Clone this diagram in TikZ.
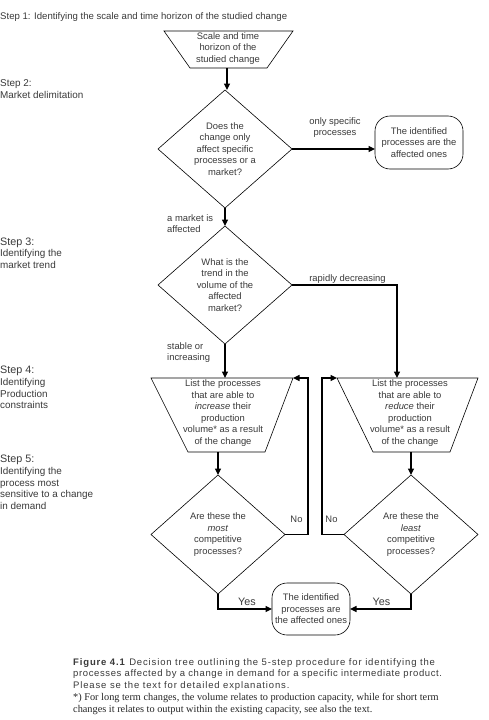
\documentclass[tikz,border=0pt]{standalone}
\usepackage{fontspec}
\setmainfont{Liberation Sans}
\newfontfamily\capfont[LetterSpace=9]{Liberation Sans}
\newfontfamily\capfontb[LetterSpace=6.5]{Liberation Sans}
\newfontfamily\serifcap{Liberation Serif}
\usetikzlibrary{shapes.geometric,arrows.meta}
\definecolor{txtgray}{HTML}{3A3A3A}
\begin{document}
\begin{tikzpicture}[x=1pt,y=-1pt,
  txt/.style={font=\fontsize{9.4}{11.5}\selectfont, text=txtgray, align=center, inner sep=0pt},
  lbl/.style={font=\fontsize{9.4}{11.5}\selectfont, text=txtgray, align=left, inner sep=0pt},
  steptitle/.style={font=\fontsize{10.8}{12}\selectfont, text=txtgray, inner sep=0pt, anchor=west},
  stepbody/.style={font=\fontsize{9.9}{11.7}\selectfont, text=txtgray, align=left, inner sep=0pt, anchor=north west},
  dia/.style={diamond, draw, line width=0.6pt, minimum width=134pt, minimum height=118pt, aspect=1.136, outer sep=0pt, txt},
  shapeline/.style={draw, line width=0.6pt},
  term/.style={rectangle, rounded corners=15pt, draw, line width=0.6pt, outer sep=0pt, txt},
  conn/.style={line width=1.1pt, -{Triangle[length=6.5pt,width=6pt]}},
  captxt/.style={anchor=west, inner sep=0pt, text=txtgray}
]
\useasboundingbox[fill=white] (0,0) rectangle (489,720);

% step labels
\node[anchor=west, font=\fontsize{9.6}{11}\selectfont, text=txtgray, inner sep=0pt] (s1) at (0,17) {Step 1: Identifying the scale and time horizon of the studied change};
\node[stepbody] (s2) at (0,79.5) {Step 2:\\Market delimitation};
\node[steptitle] (s3) at (0,243) {Step 3:};
\node[stepbody] (s3b) at (0,249.5) {Identifying the\\market trend};
\node[steptitle] (s4) at (0,371) {Step 4:};
\node[stepbody] (s4b) at (0,378) {Identifying\\Production\\constraints};
\node[steptitle] (s5) at (0,460) {Step 5:};
\node[stepbody] (s5b) at (0,467) {Identifying the\\process most\\sensitive to a change\\in demand};

% trapezoid corners
\coordinate (t1a) at (164,31); \coordinate (t1b) at (293,31);
\coordinate (t1c) at (267,68); \coordinate (t1d) at (190,68);
\coordinate (t1s) at (227,68);
\coordinate (t2a) at (151,378); \coordinate (t2b) at (293,378);
\coordinate (t2c) at (265,452); \coordinate (t2d) at (188,452);
\coordinate (t3a) at (337,378); \coordinate (t3b) at (478,378);
\coordinate (t3c) at (450,452); \coordinate (t3d) at (373,452);

% shapes
\draw[shapeline] (t1a) -- (t1b) -- (t1c) -- (t1d) -- cycle;
\node[txt] (t1) at (228,48.5) {Scale and time\\horizon of the\\studied change};

\node[dia] (d1) at (225,149) {Does the\\change only\\affect specific\\processes or a\\market?};
\node[term, minimum width=88pt, minimum height=53pt] (b1) at (419,142.5) {The identified\\processes are the\\affected ones};

\node[dia] (d2) at (225,285) {What is the\\trend in the\\volume of the\\affected\\market?};

\draw[shapeline] (t2a) -- (t2b) -- (t2c) -- (t2d) -- cycle;
\node[txt] (t2) at (223,413) {List the processes\\that are able to\\\textit{increase} their\\production\\volume* as a result\\of the change};

\draw[shapeline] (t3a) -- (t3b) -- (t3c) -- (t3d) -- cycle;
\node[txt] (t3) at (410,413) {List the processes\\that are able to\\\textit{reduce} their\\production\\volume* as a result\\of the change};

\node[dia, minimum height=119pt] (d3) at (218,534.5) {Are these the\\\textit{most}\\competitive\\processes?};
\node[dia, minimum height=119pt] (d4) at (411,534.5) {Are these the\\\textit{least}\\competitive\\processes?};

\node[term, minimum width=78pt, minimum height=52pt] (b2) at (311,609) {The identified\\processes are\\the affected ones};

% helper coordinates
\coordinate (lp1) at (308,378);
\coordinate (lp2) at (322,378);
\coordinate (t3in) at (397,378);

% connectors
\draw[conn] (t1s) -- (t1s |- d1.north);
\draw[conn] (d1.east) -- (d1.east -| b1.west);
\draw[conn] (d1.south) -- (d2.north);
\draw[conn] (d2.east) -| (t3in);
\draw[conn] (d2.south) -- (d2.south |- t2a);
\draw[conn] (d3.north |- t2d) -- (d3.north);
\draw[conn] (d4.north |- t3d) -- (d4.north);
\draw[conn] (d3.east) -| (lp1) -- (t2b);
\draw[conn] (d4.west) -| (lp2) -- (t3a);
\draw[conn] (d3.south) |- (b2.west);
\draw[conn] (d4.south) |- (b2.east);

% edge labels
\node[txt] (l1) at (335,127.5) {only specific\\processes};
\node[lbl, anchor=west] (l2) at (167,223.5) {a market is\\affected};
\node[txt] (l3) at (347.5,279) {rapidly decreasing};
\node[lbl, anchor=west] (l4) at (167,352.5) {stable or\\increasing};
\node[txt] (l5) at (296.5,519) {No};
\node[txt] (l6) at (331.5,519) {No};
\node[txt, font=\fontsize{10.8}{12}\selectfont] (l7) at (247,602) {Yes};
\node[txt, font=\fontsize{10.8}{12}\selectfont] (l8) at (381.5,602) {Yes};

% caption
\node[captxt, font=\capfont\fontsize{9.5}{11}\selectfont] (c1) at (73,663) {\textbf{Figure 4.1} Decision tree outlining the 5-step procedure for identifying the};
\node[captxt, font=\capfontb\fontsize{9.5}{11}\selectfont] (c2) at (73,674.5) {processes affected by a change in demand for a specific intermediate product.};
\node[captxt, font=\capfont\fontsize{9.5}{11}\selectfont] (c3) at (73,686) {Please se the text for detailed explanations.};
\node[captxt, text=black!85, font=\serifcap\fontsize{10.3}{11}\selectfont] (c4) at (73,698) {*) For long term changes, the volume relates to production capacity, while for short term};
\node[captxt, text=black!85, font=\serifcap\fontsize{10.3}{11}\selectfont] (c5) at (73,710) {changes it relates to output within the existing capacity, see also the text.};
\end{tikzpicture}
\end{document}
